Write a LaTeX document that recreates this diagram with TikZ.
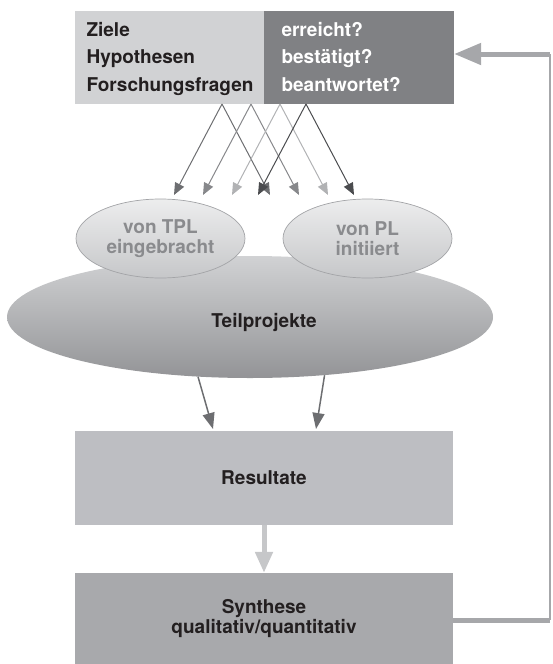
\documentclass[tikz,border=0pt]{standalone}
\usepackage{fontspec}
\setmainfont{TeX Gyre Heros}
\usetikzlibrary{positioning}
\usetikzlibrary{arrows.meta}
\usetikzlibrary{shapes.geometric}

\definecolor{boxlight}{HTML}{D1D2D4}
\definecolor{boxdark}{HTML}{808184}
\definecolor{resgray}{HTML}{BDBEC2}
\definecolor{syngray}{HTML}{A8A9AC}
\definecolor{fbgray}{HTML}{A6A7AA}
\definecolor{downgray}{HTML}{C6C7C9}
\definecolor{arrA}{HTML}{6D6E71}
\definecolor{arrB}{HTML}{87888B}
\definecolor{arrC}{HTML}{B1B2B4}
\definecolor{arrD}{HTML}{4B4C4F}
\definecolor{ovaltext}{HTML}{8A8B8E}
\definecolor{ovalline}{HTML}{A3A4A7}
\definecolor{textdark}{HTML}{231F20}

\tikzset{
  lbl/.style={font=\fontsize{19}{20}\selectfont\bfseries, align=center, text=textdark},
  panel/.style={rectangle, inner sep=0pt, minimum width=378pt},
  oval/.style={ellipse, inner sep=0pt, minimum width=169pt, minimum height=79pt, draw=ovalline, line width=0.7pt, top color=white!60!boxlight, bottom color=downgray, lbl, text=ovaltext},
  toparrow/.style={line width=1pt, -{Triangle[length=12pt, width=10pt]}},
  midarrow/.style={arrA, line width=1.5pt, -{Triangle[length=16pt, width=12pt]}}
}

\begin{document}
\begin{tikzpicture}[x=1pt, y=-1pt]

\useasboundingbox (0,0) rectangle (552,664);

\node (ziel) [rectangle, inner sep=0pt, fill=boxlight, minimum width=189pt, minimum height=93pt] at (169.5,57.5) {};
\node (check) [rectangle, inner sep=0pt, fill=boxdark, minimum width=190pt, minimum height=93pt] at (359,57.5) {};
\node (zielA) [lbl, anchor=base west] at (83,36) {Ziele};
\node (zielB) [lbl, anchor=base west] at (83,63.5) {Hypothesen};
\node (zielC) [lbl, anchor=base west] at (83,91) {Forschungsfragen};
\node (checkA) [lbl, text=white, anchor=base west] at (278,36) {erreicht?};
\node (checkB) [lbl, text=white, anchor=base west] at (278,63.5) {bestätigt?};
\node (checkC) [lbl, text=white, anchor=base west] at (278,91) {beantwortet?};

\node (teil) [ellipse, inner sep=0pt, minimum width=486pt, minimum height=122pt, top color=boxlight, bottom color=arrB!90!white] at (250,317) {};
\node (teiltext) [lbl, anchor=base] at (264,327) {Teilprojekte};
\node (tpl) [oval] at (160.5,238.5) {von TPL\\eingebracht};
\node (pl) [oval] at (367.5,238.5) {von PL\\initiiert};

\node (res) [panel, fill=resgray, minimum height=94pt, lbl] at (264,478) {Resultate};
\node (syn) [panel, fill=syngray, minimum height=91pt, lbl] at (264,618.5) {Synthese\\qualitativ/quantitativ};

\foreach \x/\c [count=\i] in {222/arrA, 251/arrB, 280/arrC, 306/arrD} {
  \coordinate (s\i) at (\x,104);
  \coordinate (l\i) at (\x-48,195);
  \coordinate (r\i) at (\x+48,195);
  \draw [toparrow, \c] (s\i) -- (l\i);
  \draw [toparrow, \c] (s\i) -- (r\i);
}

\coordinate (rA) at (213,429);
\coordinate (rB) at (316,429);
\draw [midarrow] (teil.229) -- (rA);
\draw [midarrow] (teil.322) -- (rB);

\draw [downgray, line width=5pt, -{Triangle[length=21pt, width=17pt]}] (res.south) -- (syn.north);

\coordinate (fbA) at (550,620);
\coordinate (fbB) at (550,54);
\draw [fbgray, line width=5pt] (syn.east |- fbA) -- (fbA);
\draw [fbgray, line width=1.5pt] (fbA) -- (fbB);
\draw [fbgray, line width=5pt, -{Triangle[length=27pt, width=21pt]}] (fbB) -- (check.east |- fbB);

\end{tikzpicture}
\end{document}
